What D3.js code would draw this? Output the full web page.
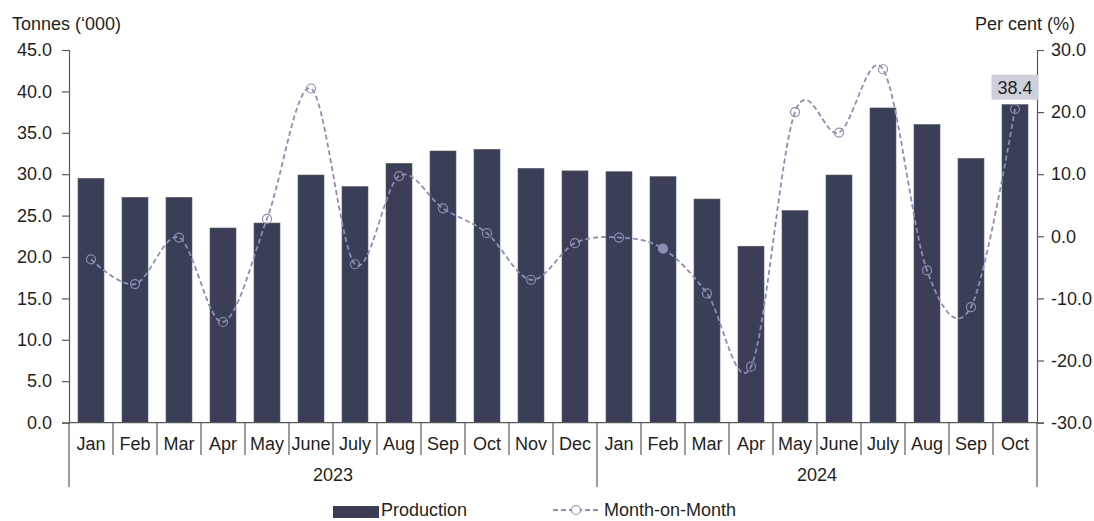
<!DOCTYPE html>
<html>
<head>
<meta charset="utf-8">
<script src="https://cdn.jsdelivr.net/npm/d3@7"></script>
<style>
  html, body { margin: 0; padding: 0; background: #fff; }
  svg { display: block; font-family: "Liberation Sans", Arial, sans-serif; }
</style>
</head>
<body>
<svg id="chart" width="1094" height="521"></svg>
<script>
// ---- data ----
const months = ["Jan","Feb","Mar","Apr","May","June","July","Aug","Sep","Oct","Nov","Dec",
                "Jan","Feb","Mar","Apr","May","June","July","Aug","Sep","Oct"];
const years = ["2023", "2024"];
const yearCounts = [12, 10];
const production = [29.5, 27.2, 27.2, 23.5, 24.1, 29.9, 28.5, 31.3, 32.8, 33.0, 30.7, 30.4,
                    30.3, 29.7, 27.0, 21.3, 25.6, 29.9, 38.0, 36.0, 31.9, 38.4];
const mom = [-3.7, -7.7, -0.2, -13.8, 2.8, 23.8, -4.5, 9.7, 4.5, 0.5, -7.0, -1.1,
             -0.2, -2.0, -9.2, -21.0, 20.0, 16.7, 26.9, -5.5, -11.4, 20.5];
const leftTicks = [0, 5, 10, 15, 20, 25, 30, 35, 40, 45];
const rightTicks = [-30, -20, -10, 0, 10, 20, 30];
const seriesNames = ["Production", "Month-on-Month"];
const leftTitle = "Tonnes (\u2018000)";
const rightTitle = "Per cent (%)";
const labelIndex = 21;

// ---- layout ----
const X0 = 69, X1 = 1037, Y0 = 422.6, YT = 50;
const barColor = "#3b3e57", lineColor = "#8c8fb3", textColor = "#1f1f1f", axisColor = "#595959";
const svg = d3.select("#chart");
const fmt = d => d.toFixed(1);

const x = d3.scaleBand().domain(d3.range(months.length)).range([X0, X1])
  .paddingInner(0.41).paddingOuter(0.205);
const yL = d3.scaleLinear().domain([0, 45]).range([Y0, YT]);
const yR = d3.scaleLinear().domain([-30, 30]).range([Y0, YT]);
const step = x.step();
const cx = i => x(i) + x.bandwidth() / 2;

// bars
svg.append("g").selectAll("rect").data(production).join("rect")
  .attr("x", (d, i) => x(i)).attr("width", x.bandwidth())
  .attr("y", d => yL(d)).attr("height", d => Y0 - yL(d))
  .attr("fill", barColor).attr("stroke", "#50536b").attr("stroke-width", 0.6);

// left axis
const gL = svg.append("g").attr("transform", `translate(${X0},0)`)
  .call(d3.axisLeft(yL).tickValues(leftTicks).tickFormat(fmt).tickSize(7).tickPadding(10));
gL.select(".domain").attr("stroke", axisColor).attr("stroke-width", 1.2);
gL.selectAll(".tick line").attr("stroke", axisColor).attr("stroke-width", 1.2);
gL.selectAll(".tick text").attr("font-size", 18).attr("fill", textColor)
  .attr("font-family", "Liberation Sans, Arial, sans-serif");

// right axis
const gR = svg.append("g").attr("transform", `translate(${X1},0)`)
  .call(d3.axisRight(yR).tickValues(rightTicks).tickFormat(fmt).tickSize(7).tickPadding(7));
gR.select(".domain").attr("stroke", axisColor).attr("stroke-width", 1.2);
gR.selectAll(".tick line").attr("stroke", axisColor).attr("stroke-width", 1.2);
gR.selectAll(".tick text").attr("font-size", 18).attr("fill", textColor)
  .attr("font-family", "Liberation Sans, Arial, sans-serif");

// x axis baseline
svg.append("line").attr("x1", X0).attr("x2", X1).attr("y1", Y0).attr("y2", Y0)
  .attr("stroke", axisColor).attr("stroke-width", 1.2);

// category separators
const yearStarts = [0];
yearCounts.forEach((c, k) => yearStarts.push(yearStarts[k] + c));
const bounds = d3.range(months.length + 1);
svg.append("g").selectAll("line").data(bounds).join("line")
  .attr("x1", i => X0 + i * step).attr("x2", i => X0 + i * step)
  .attr("y1", Y0).attr("y2", i => yearStarts.includes(i) ? 487 : 455)
  .attr("stroke", axisColor).attr("stroke-width", 1.2);

// month labels
svg.append("g").selectAll("text").data(months).join("text")
  .attr("x", (d, i) => cx(i)).attr("y", 450)
  .attr("text-anchor", "middle").attr("font-size", 18).attr("fill", textColor)
  .text(d => d);

// year labels
svg.append("g").selectAll("text").data(years).join("text")
  .attr("x", (d, k) => X0 + (yearStarts[k] + yearStarts[k + 1]) / 2 * step).attr("y", 481)
  .attr("text-anchor", "middle").attr("font-size", 18).attr("fill", textColor)
  .text(d => d);

// line
const line = d3.line().x((d, i) => cx(i)).y(d => yR(d)).curve(d3.curveCardinal.tension(0));
svg.append("path").datum(mom).attr("d", line)
  .attr("fill", "none").attr("stroke", lineColor).attr("stroke-width", 1.8)
  .attr("stroke-dasharray", "5,3");
svg.append("g").selectAll("circle").data(mom).join("circle")
  .attr("cx", (d, i) => cx(i)).attr("cy", d => yR(d)).attr("r", 4.5)
  .attr("fill", (d, i) => i === 13 ? lineColor : "none")
  .attr("stroke", lineColor).attr("stroke-width", 1.2);

// data label
const lx = cx(labelIndex), ly = yL(production[labelIndex]);
svg.append("rect").attr("x", lx - 23.5).attr("y", ly - 30).attr("width", 47).attr("height", 25)
  .attr("fill", "#cfd0dc");
svg.append("text").attr("x", lx).attr("y", ly - 11).attr("text-anchor", "middle")
  .attr("font-size", 18).attr("fill", textColor).text(fmt(production[labelIndex]));

// titles
svg.append("text").attr("x", 12).attr("y", 30).attr("font-size", 18).attr("fill", textColor).text(leftTitle);
svg.append("text").attr("x", 1075).attr("y", 30).attr("text-anchor", "end")
  .attr("font-size", 18).attr("fill", textColor).text(rightTitle);

// legend
const lg = svg.append("g");
lg.append("rect").attr("x", 333).attr("y", 506).attr("width", 46).attr("height", 12).attr("fill", barColor);
lg.append("text").attr("x", 381).attr("y", 516).attr("font-size", 18).attr("fill", textColor).text(seriesNames[0]);
lg.append("line").attr("x1", 553).attr("x2", 600).attr("y1", 510).attr("y2", 510)
  .attr("stroke", lineColor).attr("stroke-width", 1.8).attr("stroke-dasharray", "5,3");
lg.append("circle").attr("cx", 576).attr("cy", 510).attr("r", 4.5)
  .attr("fill", "white").attr("stroke", lineColor).attr("stroke-width", 1.2);
lg.append("text").attr("x", 604).attr("y", 516).attr("font-size", 18).attr("fill", textColor).text(seriesNames[1]);
</script>
</body>
</html>
